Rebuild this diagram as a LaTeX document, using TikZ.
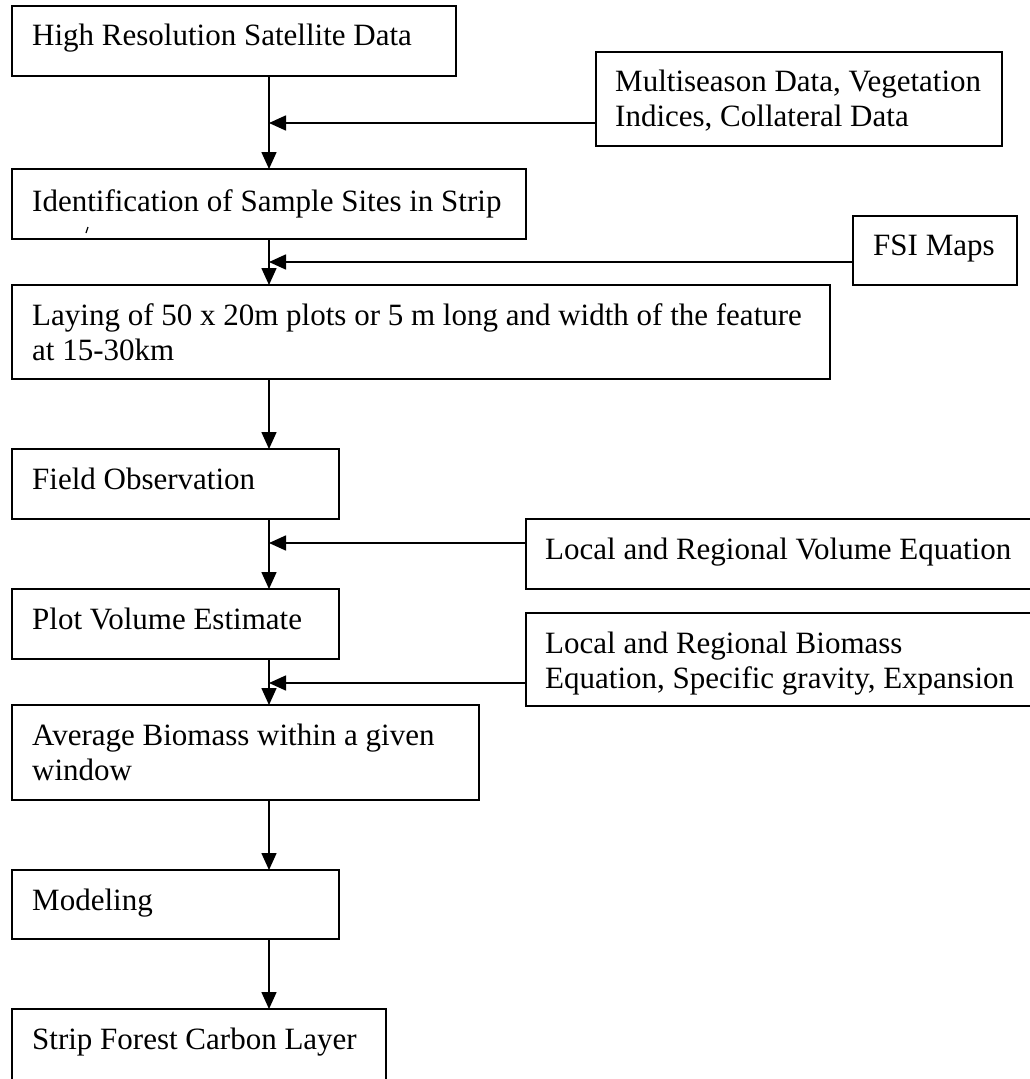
\documentclass[tikz,border=0pt]{standalone}
\usepackage{fontspec}
\setmainfont{Liberation Serif}
\usetikzlibrary{arrows.meta,calc}
\begin{document}
\begin{tikzpicture}[x=1pt,y=-1pt,
  box/.style={draw, line width=1.8pt, rectangle, inner sep=0pt, outer sep=0pt, anchor=north west},
  txt/.style={anchor=base west, inner sep=0pt, align=left, font=\fontsize{31}{35}\selectfont},
  arr/.style={line width=1.6pt, -{Triangle[length=17pt,width=15pt]}}]
\useasboundingbox (0,0) rectangle (1029,1079);
% boxes
\node[box, minimum width=444pt, minimum height=70pt] (b1) at (12,6) {};
\node[box, minimum width=406pt, minimum height=94pt] (b2) at (596,52) {};
\node[box, minimum width=514pt, minimum height=70pt] (b3) at (12,169) {};
\node[box, minimum width=164pt, minimum height=69pt] (b4) at (853,216) {};
\node[box, minimum width=818pt, minimum height=94pt] (b5) at (12,285) {};
\node[box, minimum width=327pt, minimum height=70pt] (b6) at (12,449) {};
\node[box, minimum width=520pt, minimum height=70pt] (b7) at (526,519) {};
\node[box, minimum width=327pt, minimum height=70pt] (b8) at (12,589) {};
\node[box, minimum width=520pt, minimum height=93pt] (b9) at (526,613) {};
\node[box, minimum width=467pt, minimum height=95pt] (b10) at (12,705) {};
\node[box, minimum width=327pt, minimum height=69pt] (b11) at (12,870) {};
\node[box, minimum width=374pt, minimum height=90pt] (b12) at (12,1009) {};
% texts (for two-line texts the base anchor is the last line's baseline)
\node[txt] (t1) at (32,45) {High Resolution Satellite Data};
\node[txt] (t2) at (615,126) {Multiseason Data, Vegetation\\Indices, Collateral Data};
\node[txt] (t3) at (32,211) {Identification of Sample Sites in Strip};
\node[txt] (t4) at (873,255) {FSI Maps};
\node[txt] (t5) at (32,360) {Laying of 50 x 20m plots or 5 m long and width of the feature\\at 15-30km};
\node[txt] (t6) at (32,489) {Field Observation};
\node[txt] (t7) at (545,559) {Local and Regional Volume Equation};
\node[txt] (t8) at (32,629) {Plot Volume Estimate};
\node[txt] (t9) at (545,688) {Local and Regional Biomass\\Equation, Specific gravity, Expansion};
\node[txt] (t10) at (32,780) {Average Biomass within a given\\window};
\node[txt] (t11) at (32,910) {Modeling};
\node[txt] (t12) at (32,1049) {Strip Forest Carbon Layer};
% stray mark
\draw[line width=1.2pt] (86,233) -- (88,227);
% connector junctions
\coordinate (x0) at (269,0);
\coordinate (j1) at (269,123);
\coordinate (j2) at (269,262);
\coordinate (j3) at (269,543);
\coordinate (j4) at (269,683);
% vertical connectors
\draw[arr] (b1.south -| x0) -- (b3.north -| x0);
\draw[arr] (b3.south -| x0) -- (b5.north -| x0);
\draw[arr] (b5.south -| x0) -- (b6.north -| x0);
\draw[arr] (b6.south -| x0) -- (b8.north -| x0);
\draw[arr] (b8.south -| x0) -- (b10.north -| x0);
\draw[arr] (b10.south -| x0) -- (b11.north -| x0);
\draw[arr] (b11.south -| x0) -- (b12.north -| x0);
% side inputs
\draw[arr] (b2.west |- j1) -- (j1);
\draw[arr] (b4.west |- j2) -- (j2);
\draw[arr] (b7.west |- j3) -- (j3);
\draw[arr] (b9.west |- j4) -- (j4);
\end{tikzpicture}
\end{document}
